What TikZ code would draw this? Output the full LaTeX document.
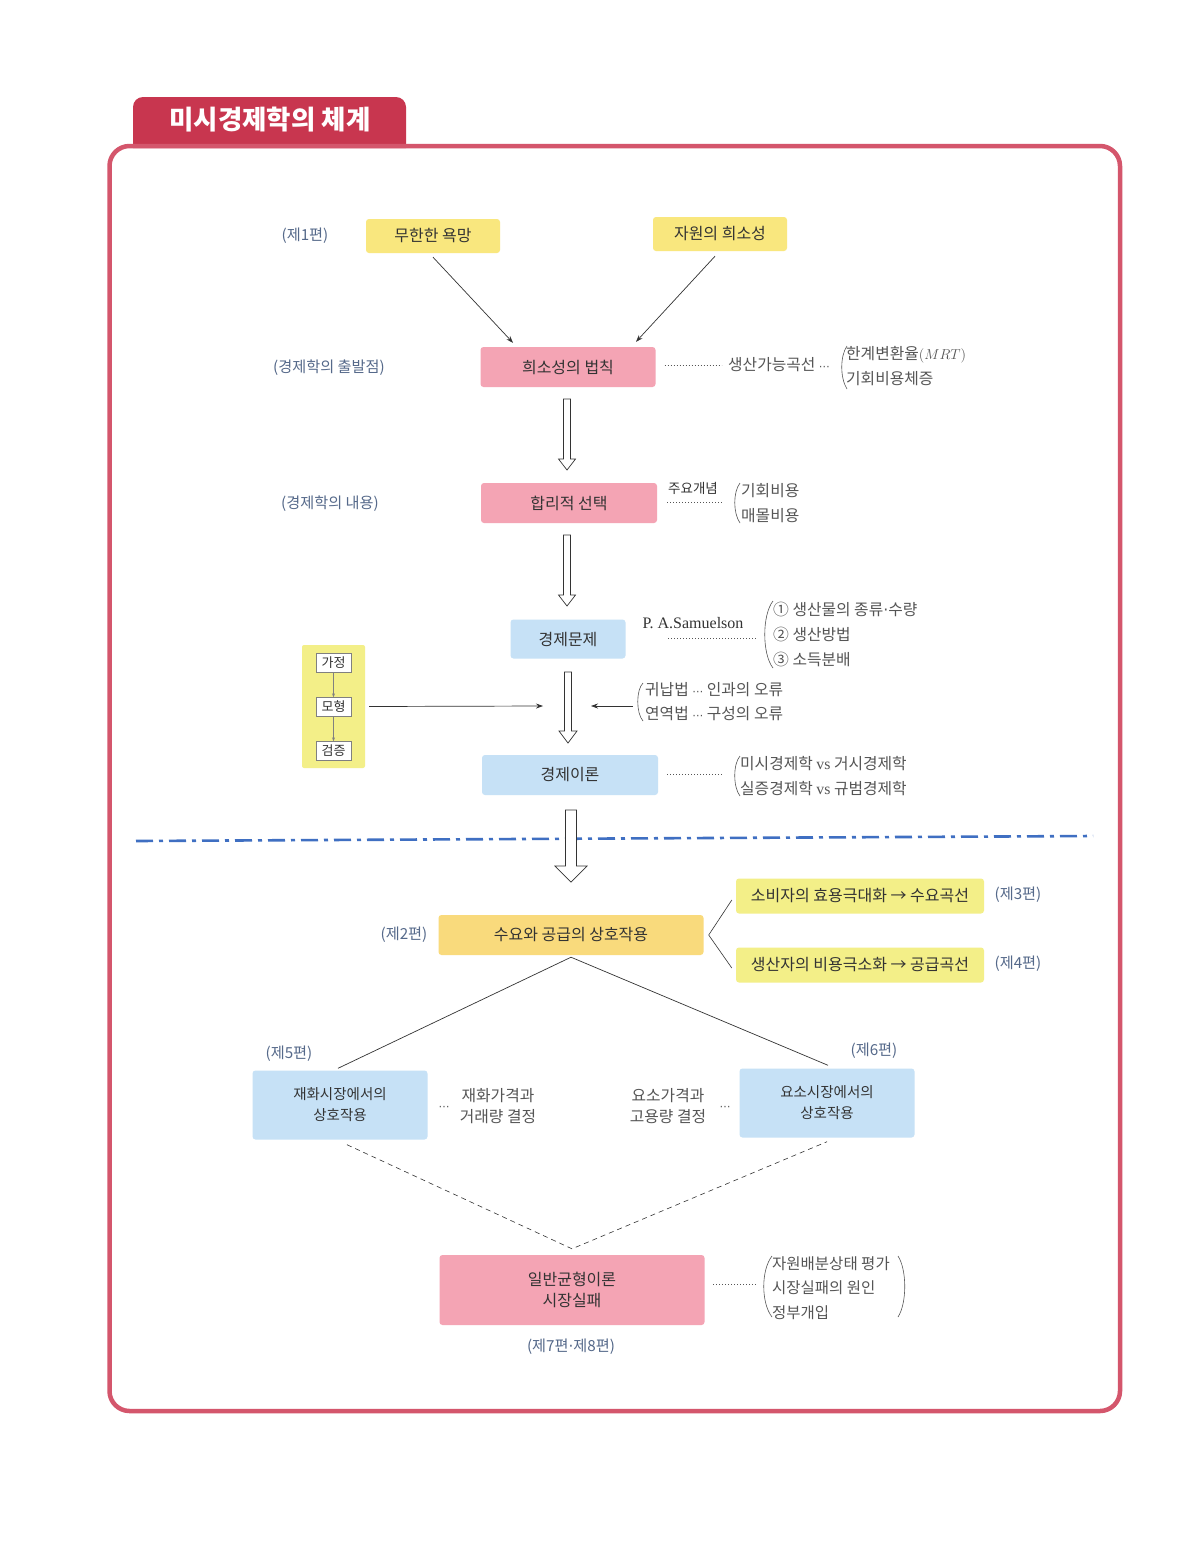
\documentclass[tikz,border=0pt]{standalone}
\usepackage{fontspec}
\setmainfont{Noto Sans CJK KR}
\newfontfamily\kr{Noto Sans CJK KR}
\newfontfamily\serif{Liberation Serif}
\newfontfamily\dv{DejaVu Sans}
\usetikzlibrary{arrows.meta,calc}
\definecolor{tabc}{HTML}{C8364F}
\definecolor{framec}{HTML}{D4566C}
\definecolor{ylw}{HTML}{F9E77E}
\definecolor{ylwg}{HTML}{F3EF88}
\definecolor{orng}{HTML}{F9DA7C}
\definecolor{pnk}{HTML}{F4A4B4}
\definecolor{blu}{HTML}{C6E1F6}
\definecolor{txt}{HTML}{333333}
\definecolor{labc}{HTML}{55698A}
\definecolor{annc}{HTML}{555555}
\definecolor{dashc}{HTML}{3F6FC2}
\newcommand\hollowarrow[5]{%
\draw[harr] let \p1=(#1), \p2=(#2) in (\x1-#3pt,\y1) -- (\x1+#3pt,\y1) -- (\x1+#3pt,\y2+#5pt) -- (\x1+#4pt,\y2+#5pt) -- (\x1,\y2) -- (\x1-#4pt,\y2+#5pt) -- (\x1-#3pt,\y2+#5pt) -- cycle;}
\newcommand\ddd{{\dv\fontsize{11}{12}\selectfont ⋯}}
\newcommand\mdot{{\dv ·}}
\begin{document}
\begin{tikzpicture}[x=1pt,y=-1pt,
  box/.style={rounded corners=3pt, inner sep=0pt, text=txt, font=\kr\fontsize{16}{21}\selectfont, align=center},
  ybox/.style={box, fill=ylw},
  gbox/.style={box, fill=ylwg},
  obox/.style={box, fill=orng},
  pbox/.style={box, fill=pnk},
  bbox/.style={box, fill=blu},
  lab/.style={text=labc, font=\kr\fontsize{15.2}{17}\selectfont, inner sep=0pt},
  ann/.style={text=annc, font=\kr\fontsize{15.8}{25}\selectfont, inner sep=0pt, anchor=west, align=left},
  dots/.style={draw=annc, line width=0.9pt, dash pattern=on 0.9pt off 2.1pt},
  brk/.style={draw=annc, line width=0.6pt},
  thinarr/.style={draw=txt, line width=0.7pt, -{Stealth[length=7pt,width=5pt]}},
  harr/.style={draw=txt, line width=0.7pt, fill=white},
  small/.style={draw=gray, fill=white, inner sep=0pt, minimum width=35, minimum height=19, font=\kr\fontsize{13}{15}\selectfont, text=txt}
]
\useasboundingbox (0,0) rectangle (1180,1545);
\fill[white] (0,0) rectangle (1180,1545);

% title tab and frame
\fill[tabc] (133,148) [rounded corners=10pt]-- (133,97) -- (406,97) [sharp corners]-- (406,148) -- cycle;
\node[text=white, font=\kr\bfseries\fontsize{26.5}{28}\selectfont, inner sep=0pt] (title) at (270,120) {미시경제학의 체계};
\draw[framec, line width=4.5pt, rounded corners=20pt] (109.5,146) rectangle (1120,1411);

% top nodes
\node[lab] (l1) at (305,236) {(제1편)};
\node[ybox, minimum width=134, minimum height=34] (desire) at (433,236) {무한한 욕망};
\node[ybox, minimum width=134, minimum height=34] (scarce) at (720,234) {자원의 희소성};
\node[lab] (l2) at (329,368) {(경제학의 출발점)};
\node[pbox, minimum width=175, minimum height=40] (law) at (568,367) {희소성의 법칙};
\draw[thinarr] ($(desire.south)+(0,4)$) -- ($(law.north)+(-55,-4)$);
\draw[thinarr] ($(scarce.south)+(-5,5)$) -- ($(law.north)+(68,-5)$);

% law annotation
\draw[dots] ($(law.east)+(9,-2)$) -- ($(law.east)+(66,-2)$);
\node[ann] (ppc) at (728,365) {생산가능곡선 \ddd};
\draw[brk] (847,346) .. controls (840,356) and (840,378) .. (847,389);
\node[ann] (mrt) at (846,366) {한계변환율$(MRT)$\\기회비용체증};

\coordinate (h1s) at (567,399);
\coordinate (h1e) at (567,470);
\hollowarrow{h1s}{h1e}{3.5}{8.5}{11}

\node[lab] (l3) at (330,504) {(경제학의 내용)};
\node[pbox, minimum width=176, minimum height=40] (choice) at (569,503) {합리적 선택};
\node[text=txt, font=\kr\fontsize{13.5}{15}\selectfont, inner sep=0pt] (concept) at (693,488) {주요개념};
\draw[dots] (667,502) -- (722,502);
\draw[brk] (740,483) .. controls (733,492) and (733,513) .. (740,523);
\node[ann] (cost) at (741,503) {기회비용\\매몰비용};

\coordinate (h2s) at (567,535);
\coordinate (h2e) at (567,606);
\hollowarrow{h2s}{h2e}{3.5}{8.5}{11}

\node[bbox, minimum width=115, minimum height=39] (prob) at (568,639) {경제문제};
\node[text=txt, font=\serif\fontsize{16}{18}\selectfont, inner sep=0pt] (sam) at (693,623) {P. A.Samuelson};
\draw[dots] (668,638) -- (756,638);
\draw[brk] (773,601) .. controls (762,615) and (762,654) .. (773,668);
\node[ann] (three) at (773,634) {① 생산물의 종류\mdot 수량\\② 생산방법\\③ 소득분배};

\coordinate (h3s) at (568,672);
\coordinate (h3e) at (568,743);
\hollowarrow{h3s}{h3e}{3.5}{9}{12}

% method box
\node[fill=ylwg, rounded corners=2pt, minimum width=63, minimum height=123, inner sep=0pt] (method) at (333.5,706.5) {};
\node[small] (assume) at (333.5,662.5) {가정};
\node[small] (model) at (333.5,707) {모형};
\node[small] (test) at (333.5,751) {검증};
\draw[draw=gray, line width=0.6pt, -{Stealth[length=4pt,width=3pt]}] (assume) -- (model);
\draw[draw=gray, line width=0.6pt, -{Stealth[length=4pt,width=3pt]}] (model) -- (test);
\coordinate (m1) at (543,706);
\draw[thinarr] ($(method.east)+(4,0)$) -- (m1);
\coordinate (m2) at (633,706);
\coordinate (m3) at (591,706);
\draw[thinarr] (m2) -- (m3);
\draw[brk] (643,683) .. controls (636,690) and (636,713) .. (643,721);
\node[ann, font=\kr\fontsize{15.8}{24}\selectfont] (induct) at (645,702) {귀납법 \ddd{} 인과의 오류\\연역법 \ddd{} 구성의 오류};

\node[bbox, minimum width=176, minimum height=40] (theory) at (570,775) {경제이론};
\draw[dots] (667,774) -- (723,774);
\draw[brk] (740,756) .. controls (733,764) and (733,787) .. (740,796);
\node[ann] (micro) at (740,776) {미시경제학 {\serif vs} 거시경제학\\실증경제학 {\serif vs} 규범경제학};

% dash-dot separator
\draw[dashc, line width=2.6pt, dash pattern=on 17pt off 6pt on 4pt off 6pt] (136,841) -- (1093,836);

\coordinate (h4s) at (571,810);
\coordinate (h4e) at (571,882);
\hollowarrow{h4s}{h4e}{5.5}{16}{16}

% lower part
\node[lab] (l4) at (404,935) {(제2편)};
\node[obox, minimum width=265, minimum height=40] (sd) at (571,935) {수요와 공급의 상호작용};
\node[gbox, minimum width=248, minimum height=35] (cons) at (860,896) {소비자의 효용극대화 → 수요곡선};
\node[gbox, minimum width=248, minimum height=35] (prod) at (860,965) {생산자의 비용극소화 → 공급곡선};
\node[lab] (l5) at (1018,895) {(제3편)};
\node[lab] (l6) at (1018,964) {(제4편)};
\draw[draw=txt, line width=0.6pt] ($(cons.west)+(-4,4)$) -- ($(sd.east)+(5,0)$) -- ($(prod.west)+(-4,3)$);

\node[lab] (l7) at (289,1054) {(제5편)};
\node[bbox, minimum width=175, minimum height=69, font=\kr\fontsize{14.5}{21}\selectfont] (goods) at (340,1105) {재화시장에서의\\상호작용};
\node[lab] (l8) at (874,1051) {(제6편)};
\node[bbox, minimum width=175, minimum height=69, font=\kr\fontsize{14.5}{21}\selectfont] (factor) at (827,1103) {요소시장에서의\\상호작용};
\draw[draw=txt, line width=0.7pt] ($(sd.south)+(0,2)$) -- ($(goods.north)+(-2,-2)$);
\draw[draw=txt, line width=0.7pt] ($(sd.south)+(0,2)$) -- ($(factor.north)+(1,-3)$);

\node[text=annc, inner sep=0pt] (gd) at (444,1108) {\ddd};
\node[text=annc, font=\kr\fontsize{15.8}{21}\selectfont, inner sep=0pt, align=center] (gp) at (498,1106) {재화가격과\\거래량 결정};
\node[text=annc, font=\kr\fontsize{15.8}{21}\selectfont, inner sep=0pt, align=center] (fp) at (668,1106) {요소가격과\\고용량 결정};
\node[text=annc, inner sep=0pt] (fd) at (725,1108) {\ddd};

\node[pbox, minimum width=265, minimum height=70] (ge) at (572,1290) {일반균형이론\\시장실패};
\draw[draw=txt, line width=0.6pt, dash pattern=on 5pt off 4pt] ($(goods.south)+(7,5)$) -- ($(ge.north)+(0,-6)$) -- ($(factor.south)+(0,4)$);
\draw[dots] (713,1284) -- (756,1284);
\draw[brk] (772,1256) .. controls (761,1270) and (761,1303) .. (772,1317);
\draw[brk] (898,1256) .. controls (907,1270) and (907,1303) .. (898,1317);
\node[ann, font=\kr\fontsize{15.5}{24.5}\selectfont] (eval) at (772,1288) {자원배분상태 평가\\시장실패의 원인\\정부개입};
\node[lab] (l9) at (571,1347) {(제7편\mdot 제8편)};
\end{tikzpicture}
\end{document}
